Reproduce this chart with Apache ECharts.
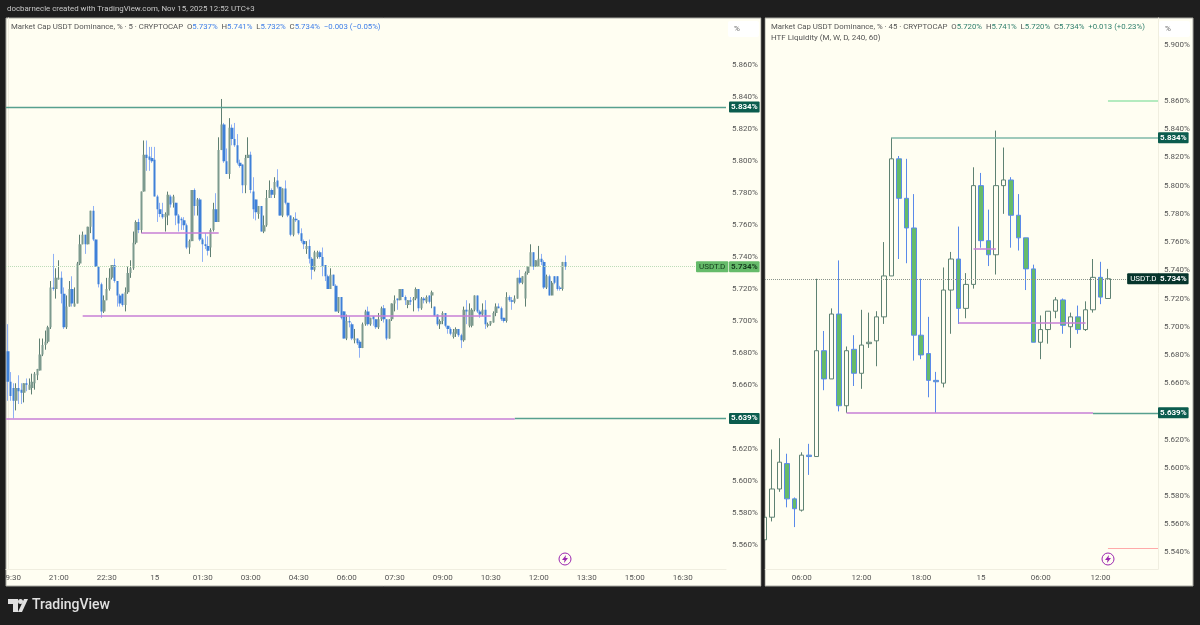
<!DOCTYPE html>
<html>
<head>
<meta charset="utf-8">
<title>USDT.D</title>
<script src="https://cdn.jsdelivr.net/npm/echarts@6/dist/echarts.min.js"></script>
<style>
    html, body { margin: 0; padding: 0; background: #1e1e1e; }
    #chart { width: 1200px; height: 625px; }
</style>
</head>
<body>
<div id="chart"></div>
<script>
// [open, close, low, high]
var candles5m = [
    [5.681,5.662,5.650,5.698],[5.662,5.653,5.650,5.668],[5.658,5.650,5.639,5.661],[5.650,5.658,5.644,5.661],
    [5.658,5.656,5.648,5.666],[5.657,5.655,5.648,5.661],[5.655,5.661,5.649,5.661],[5.661,5.660,5.656,5.664],
    [5.657,5.660,5.657,5.664],[5.658,5.662,5.654,5.667],[5.661,5.667,5.657,5.668],[5.666,5.670,5.663,5.670],
    [5.669,5.679,5.669,5.689],[5.679,5.685,5.678,5.689],[5.685,5.687,5.682,5.694],[5.687,5.696,5.686,5.697],
    [5.696,5.721,5.695,5.725],[5.721,5.720,5.719,5.742],[5.720,5.727,5.714,5.733],[5.726,5.727,5.726,5.738],
    [5.727,5.717,5.711,5.731],[5.717,5.696,5.695,5.721],[5.696,5.709,5.695,5.716],[5.709,5.720,5.709,5.725],
    [5.720,5.711,5.709,5.728],[5.709,5.711,5.709,5.721],[5.711,5.736,5.711,5.737],[5.736,5.748,5.735,5.754],
    [5.748,5.754,5.748,5.756],[5.754,5.748,5.742,5.754],[5.748,5.759,5.748,5.759],[5.759,5.769,5.755,5.769],
    [5.769,5.751,5.750,5.772],[5.751,5.734,5.734,5.751],[5.734,5.723,5.721,5.734],[5.723,5.706,5.702,5.724],
    [5.706,5.713,5.705,5.716],[5.713,5.720,5.713,5.727],[5.720,5.727,5.719,5.733],[5.727,5.735,5.726,5.735],
    [5.735,5.725,5.724,5.739],[5.725,5.716,5.709,5.725],[5.716,5.711,5.709,5.717],[5.717,5.710,5.709,5.717],
    [5.710,5.718,5.706,5.721],[5.718,5.730,5.717,5.734],[5.730,5.733,5.727,5.738],[5.733,5.749,5.732,5.756],
    [5.749,5.762,5.748,5.763],[5.762,5.757,5.755,5.764],[5.757,5.781,5.755,5.781],[5.781,5.804,5.781,5.813],
    [5.804,5.802,5.794,5.813],[5.803,5.801,5.794,5.809],[5.802,5.800,5.799,5.809],[5.801,5.778,5.778,5.809],
    [5.778,5.770,5.762,5.779],[5.770,5.767,5.765,5.774],[5.767,5.765,5.764,5.774],[5.765,5.767,5.756,5.768],
    [5.766,5.779,5.760,5.781],[5.778,5.773,5.771,5.779],[5.774,5.778,5.771,5.779],[5.774,5.766,5.760,5.774],
    [5.766,5.761,5.756,5.767],[5.764,5.763,5.757,5.765],[5.763,5.760,5.757,5.765],[5.760,5.746,5.745,5.761],
    [5.746,5.750,5.742,5.751],[5.750,5.782,5.750,5.782],[5.782,5.772,5.766,5.783],[5.772,5.776,5.766,5.777],
    [5.776,5.751,5.750,5.777],[5.751,5.748,5.737,5.752],[5.748,5.747,5.745,5.755],[5.747,5.744,5.741,5.753],
    [5.746,5.757,5.740,5.758],[5.757,5.770,5.756,5.774],[5.770,5.762,5.762,5.780],[5.762,5.807,5.762,5.815],
    [5.807,5.823,5.807,5.839],[5.823,5.800,5.799,5.824],[5.800,5.792,5.792,5.808],[5.792,5.821,5.789,5.827],
    [5.821,5.814,5.810,5.823],[5.814,5.810,5.809,5.824],[5.810,5.799,5.798,5.817],[5.799,5.797,5.796,5.801],
    [5.798,5.785,5.780,5.798],[5.785,5.802,5.780,5.804],[5.802,5.804,5.802,5.815],[5.804,5.782,5.780,5.806],
    [5.781,5.770,5.764,5.790],[5.776,5.768,5.763,5.776],[5.767,5.772,5.764,5.772],[5.772,5.756,5.756,5.772],
    [5.756,5.760,5.755,5.766],[5.760,5.777,5.759,5.782],[5.777,5.782,5.777,5.788],[5.782,5.779,5.777,5.783],
    [5.779,5.787,5.777,5.790],[5.788,5.784,5.783,5.795],[5.784,5.766,5.766,5.784],[5.766,5.783,5.765,5.783],
    [5.783,5.774,5.773,5.788],[5.774,5.766,5.765,5.774],[5.766,5.754,5.753,5.766],[5.754,5.764,5.753,5.765],
    [5.764,5.763,5.762,5.768],[5.763,5.755,5.754,5.763],[5.755,5.750,5.749,5.758],[5.750,5.748,5.745,5.751],
    [5.745,5.747,5.742,5.750],[5.747,5.739,5.736,5.751],[5.739,5.732,5.726,5.740],[5.732,5.743,5.731,5.744],
    [5.740,5.743,5.739,5.744],[5.743,5.740,5.739,5.744],[5.740,5.734,5.728,5.746],[5.735,5.728,5.725,5.735],
    [5.728,5.720,5.720,5.729],[5.720,5.729,5.720,5.733],[5.729,5.722,5.722,5.729],[5.722,5.706,5.706,5.723],
    [5.706,5.715,5.705,5.715],[5.715,5.702,5.701,5.715],[5.706,5.689,5.689,5.706],[5.689,5.700,5.688,5.704],
    [5.700,5.699,5.696,5.703],[5.698,5.689,5.688,5.699],[5.688,5.689,5.686,5.695],[5.689,5.686,5.685,5.689],
    [5.687,5.683,5.677,5.688],[5.683,5.698,5.683,5.699],[5.698,5.706,5.697,5.707],[5.706,5.698,5.697,5.709],
    [5.698,5.702,5.697,5.702],[5.703,5.701,5.697,5.703],[5.701,5.696,5.695,5.701],[5.696,5.701,5.695,5.705],
    [5.701,5.708,5.700,5.709],[5.708,5.701,5.699,5.710],[5.701,5.689,5.688,5.701],[5.689,5.701,5.689,5.701],
    [5.701,5.711,5.700,5.711],[5.711,5.713,5.706,5.716],[5.714,5.713,5.707,5.714],[5.713,5.720,5.713,5.720],
    [5.720,5.715,5.715,5.720],[5.715,5.713,5.710,5.716],[5.710,5.713,5.708,5.713],[5.713,5.712,5.710,5.715],
    [5.713,5.714,5.706,5.715],[5.714,5.720,5.713,5.721],[5.720,5.708,5.706,5.720],[5.708,5.714,5.707,5.715],
    [5.714,5.713,5.711,5.715],[5.712,5.715,5.711,5.716],[5.716,5.712,5.711,5.716],[5.716,5.718,5.708,5.719],
    [5.709,5.703,5.703,5.709],[5.704,5.698,5.697,5.704],[5.698,5.700,5.695,5.701],[5.700,5.705,5.698,5.706],
    [5.705,5.697,5.696,5.705],[5.697,5.695,5.692,5.697],[5.695,5.692,5.691,5.696],[5.690,5.693,5.689,5.695],
    [5.692,5.695,5.690,5.696],[5.695,5.691,5.690,5.695],[5.691,5.688,5.683,5.692],[5.688,5.707,5.687,5.709],
    [5.707,5.706,5.698,5.713],[5.697,5.707,5.696,5.711],[5.697,5.707,5.696,5.708],[5.707,5.716,5.706,5.716],
    [5.716,5.706,5.705,5.716],[5.706,5.704,5.702,5.707],[5.704,5.707,5.703,5.711],[5.707,5.698,5.695,5.713],
    [5.697,5.698,5.696,5.699],[5.698,5.700,5.697,5.700],[5.699,5.705,5.699,5.706],[5.705,5.709,5.703,5.711],
    [5.709,5.708,5.708,5.711],[5.708,5.701,5.700,5.709],[5.702,5.700,5.699,5.702],[5.700,5.715,5.699,5.718],
    [5.715,5.713,5.712,5.716],[5.713,5.712,5.707,5.715],[5.712,5.714,5.711,5.716],[5.714,5.727,5.714,5.727],
    [5.727,5.724,5.723,5.732],[5.724,5.728,5.723,5.728],[5.714,5.730,5.709,5.731],[5.730,5.734,5.729,5.734],
    [5.734,5.743,5.734,5.748],[5.743,5.734,5.732,5.743],[5.734,5.738,5.734,5.738],[5.734,5.739,5.734,5.747],
    [5.739,5.737,5.735,5.742],[5.737,5.721,5.720,5.738],[5.721,5.728,5.720,5.729],[5.728,5.716,5.716,5.729],
    [5.716,5.724,5.716,5.725],[5.728,5.724,5.723,5.728],[5.728,5.720,5.719,5.728],[5.721,5.720,5.719,5.722],
    [5.720,5.737,5.719,5.737],[5.737,5.734,5.732,5.741]
];

// [open, close, low, high]
var candles45m = [
    [5.549,5.565,5.549,5.566],[5.565,5.585,5.562,5.613],[5.585,5.604,5.583,5.621],[5.603,5.578,5.572,5.610],
    [5.578,5.571,5.558,5.579],[5.570,5.609,5.569,5.611],[5.609,5.608,5.595,5.617],[5.608,5.683,5.608,5.734],
    [5.683,5.663,5.655,5.697],[5.663,5.709,5.663,5.713],[5.709,5.644,5.640,5.747],[5.644,5.683,5.639,5.686],
    [5.684,5.667,5.658,5.694],[5.667,5.687,5.656,5.712],[5.688,5.689,5.685,5.710],[5.690,5.707,5.672,5.711],
    [5.707,5.736,5.702,5.760],[5.736,5.819,5.736,5.834],[5.819,5.791,5.748,5.821],[5.791,5.770,5.745,5.819],
    [5.770,5.694,5.676,5.794],[5.694,5.680,5.677,5.734],[5.681,5.662,5.650,5.707],[5.662,5.661,5.639,5.668],
    [5.660,5.726,5.657,5.742],[5.726,5.748,5.695,5.753],[5.748,5.713,5.702,5.771],[5.713,5.730,5.706,5.738],
    [5.730,5.800,5.727,5.813],[5.800,5.761,5.756,5.809],[5.761,5.751,5.743,5.783],[5.751,5.800,5.737,5.839],
    [5.800,5.804,5.780,5.827],[5.804,5.779,5.756,5.806],[5.779,5.763,5.754,5.794],[5.763,5.741,5.726,5.763],
    [5.741,5.689,5.689,5.744],[5.689,5.698,5.677,5.708],[5.698,5.711,5.688,5.711],[5.711,5.719,5.706,5.721],
    [5.719,5.701,5.695,5.720],[5.700,5.707,5.685,5.710],[5.707,5.698,5.695,5.715],[5.698,5.712,5.697,5.718],
    [5.712,5.735,5.710,5.748],[5.735,5.721,5.716,5.746],[5.720,5.734,5.720,5.741]
];

var priceTicks5m = [5.56, 5.58, 5.60, 5.62, 5.66, 5.68, 5.70, 5.72, 5.74, 5.76, 5.78, 5.80, 5.82, 5.84, 5.86];
var priceTicks45m = [5.54, 5.56, 5.58, 5.60, 5.62, 5.66, 5.68, 5.70, 5.72, 5.74, 5.76, 5.78, 5.80, 5.82, 5.84, 5.86, 5.90];

var timeTicks5m = [2, 19, 37, 55, 73, 91, 109, 127, 145, 163, 181, 199, 217, 235, 253];
var timeLabels5m = ['9:30', '21:00', '22:30', '15', '01:30', '03:00', '04:30', '06:00', '07:30', '09:00', '10:30', '12:00', '13:30', '15:00', '16:30'];
var timeTicks45m = [5, 13, 21, 29, 37, 45];
var timeLabels45m = ['06:00', '12:00', '18:00', '15', '06:00', '12:00'];

// visible bar range of each panel, half a bar off on the left like the original
var barRange5m = [-0.75, 269.2];
var barRange45m = [0.08, 52.7];

// liquidity levels: [from bar, to bar, price, kind]
var levels5m = [
    [-0.75, 269.2, 5.834, 'teal'],
    [190, 269.2, 5.639, 'teal'],
    [-0.75, 190, 5.639, 'purple'],
    [28, 181, 5.703, 'purple'],
    [50, 79, 5.755, 'purple']
];
var levels45m = [
    [17, 52.7, 5.834, 'tealSoft'],
    [44, 52.7, 5.639, 'teal'],
    [11, 44, 5.639, 'purple'],
    [26, 43, 5.703, 'purple'],
    [28, 31, 5.755, 'purple'],
    [46, 52.7, 5.860, 'greenSoft'],
    [46, 52.7, 5.543, 'redSoft']
];

var lastPrice = 5.734;
var swingHigh = 5.834;
var swingLow = 5.639;

var FONT = 'Roboto';
var levelStyles = {
    teal: { color: '#57a08f', width: 1.4 },
    tealSoft: { color: '#7fb8a8', width: 1.6 },
    purple: { color: '#c77fd6', width: 1.5 },
    greenSoft: { color: '#9be4ae', width: 1.5 },
    redSoft: { color: '#ffaaaa', width: 1 }
};

function levelLines(levels) {
    return levels.map(function (l) {
        return [
            { coord: [l[0], l[2]], lineStyle: { color: levelStyles[l[3]].color, width: levelStyles[l[3]].width, type: 'solid' } },
            { coord: [l[1], l[2]] }
        ];
    });
}

// tags sit on a short see-through segment, opacity 0 would hide the label too
function priceTag(x, price, bg, fg, gap) {
    return [
        {
            coord: [x - 1, price],
            lineStyle: { color: 'rgba(0,0,0,0)' },
            label: {
                show: true, position: 'end', distance: gap,
                formatter: price.toFixed(3) + '%',
                backgroundColor: bg, color: fg,
                fontFamily: FONT, fontSize: 8, fontWeight: 'bold',
                padding: [2, 2, 1, 2], borderRadius: 1
            }
        },
        { coord: [x, price] }
    ];
}

function nameTag(x, bg, fg) {
    return [
        {
            coord: [x - 1, lastPrice],
            lineStyle: { color: 'rgba(0,0,0,0)' },
            label: {
                show: true, position: 'end', distance: 2,
                formatter: 'USDT.D',
                backgroundColor: bg, color: fg,
                fontFamily: FONT, fontSize: 8,
                padding: [2, 3, 1, 3], borderRadius: 1
            }
        },
        { coord: [x, lastPrice] }
    ];
}

function xAxisFor(gridIndex, range, ticks, labels) {
    return {
        type: 'value', gridIndex: gridIndex, min: range[0], max: range[1],
        splitLine: { show: false },
        axisTick: { show: false },
        axisLine: { show: true, onZero: false, lineStyle: { color: '#f0eee0', width: 1 } },
        axisLabel: {
            customValues: ticks,
            color: '#555', fontFamily: FONT, fontSize: 8, margin: 5, hideOverlap: false,
            formatter: function (v) { return labels[ticks.indexOf(v)]; }
        }
    };
}

function yAxisFor(gridIndex, min, max, ticks) {
    return {
        type: 'value', gridIndex: gridIndex, min: min, max: max, position: 'right',
        splitLine: { show: false },
        axisTick: { show: false },
        axisLine: { show: true, lineStyle: { color: '#f0eee0', width: 1 } },
        axisLabel: {
            customValues: ticks,
            color: '#555', fontFamily: FONT, fontSize: 8, margin: 6,
            formatter: function (v) { return v.toFixed(3) + '%'; }
        }
    };
}

function legendTitle(left, top, head, values, colour) {
    return {
        left: left, top: top, padding: 0,
        text: '{h|' + head + '}' + values.map(function (v) {
            return v[0] ? '{h|  ' + v[0] + '}{v|' + v[1] + '}' : '{v|  ' + v[1] + '}';
        }).join(''),
        textStyle: {
            fontFamily: FONT, fontSize: 7.8, fontWeight: 'normal',
            rich: {
                h: { fontFamily: FONT, fontSize: 7.8, fontWeight: 'normal', color: '#555' },
                v: { fontFamily: FONT, fontSize: 7.8, fontWeight: 'normal', color: colour }
            }
        }
    };
}

function boltIcon(cx, cy) {
    return [
        { type: 'circle', shape: { cx: cx, cy: cy, r: 6 }, style: { fill: 'none', stroke: '#9c27b0', lineWidth: 1 }, z: 5 },
        { type: 'polygon', shape: { points: [[cx + 1, cy - 4], [cx - 3, cy + 1], [cx - 0.5, cy + 1], [cx - 1, cy + 4], [cx + 3, cy - 1], [cx + 0.5, cy - 1]] }, style: { fill: '#9c27b0' }, z: 5 }
    ];
}

function percentBox(x) {
    return [
        { type: 'rect', shape: { x: x, y: 21, width: 31, height: 16, r: 2 }, style: { fill: '#ffffff' }, z: 5 },
        { type: 'text', style: { x: x + 6, y: 29, text: '%', fill: '#666', font: '8px ' + FONT, verticalAlign: 'middle' }, z: 6 }
    ];
}

function panel(x, width) {
    return { type: 'rect', shape: { x: x, y: 18, width: width, height: 568 }, style: { fill: '#fffef2', stroke: '#a9a9a2', lineWidth: 1 }, z: -10 };
}

function withBarIndex(candles) {
    return candles.map(function (c, i) { return [i, c[0], c[1], c[2], c[3]]; });
}

var chart = echarts.init(document.getElementById('chart'), null, { renderer: 'canvas' });

chart.setOption({
    animation: false,
    backgroundColor: '#1e1e1e',
    title: [
        {
            left: 7, top: 5, padding: 0,
            text: 'docbarnecle created with TradingView.com, Nov 15, 2025 12:52 UTC+3',
            textStyle: { color: '#c8c8c8', fontFamily: FONT, fontSize: 7.9, fontWeight: 'normal' }
        },
        legendTitle(11, 23, 'Market Cap USDT Dominance, % · 5 · CRYPTOCAP',
            [['O', '5.737%'], ['H', '5.741%'], ['L', '5.732%'], ['C', '5.734%'], ['', '\u22120.003 (\u22120.05%)']], '#3f7fe8'),
        legendTitle(771, 23, 'Market Cap USDT Dominance, % · 45 · CRYPTOCAP',
            [['O', '5.720%'], ['H', '5.741%'], ['L', '5.720%'], ['C', '5.734%'], ['', '+0.013 (+0.23%)']], '#2f7f6c'),
        {
            left: 771, top: 34, padding: 0,
            text: 'HTF Liquidity (M, W, D, 240, 60)',
            textStyle: { color: '#555', fontFamily: FONT, fontSize: 8, fontWeight: 'normal' }
        }
    ],
    grid: [
        { left: 6, top: 18, width: 720, height: 551 },
        { left: 765, top: 18, width: 393, height: 551 }
    ],
    xAxis: [
        xAxisFor(0, barRange5m, timeTicks5m, timeLabels5m),
        xAxisFor(1, barRange45m, timeTicks45m, timeLabels45m)
    ],
    yAxis: [
        yAxisFor(0, 5.5447, 5.8897, priceTicks5m),
        yAxisFor(1, 5.5283, 5.9188, priceTicks45m)
    ],
    graphic: { elements: [
        panel(6, 755),
        panel(765, 428),
        // the cut off first candle must not run into the gap between the panels
        { type: 'rect', shape: { x: 761.5, y: 18, width: 3, height: 568 }, style: { fill: '#1e1e1e' }, z: 5 }
    ].concat(
        percentBox(728), percentBox(1159),
        boltIcon(565, 559), boltIcon(1108, 559),
        [
            { type: 'text', style: { x: 32, y: 605, text: 'TradingView', fill: '#e0e0e0', font: '500 14px ' + FONT, verticalAlign: 'middle' }, z: 5 },
            { type: 'polygon', shape: { points: [[8, 599], [18, 599], [18, 612], [13, 612], [13, 604], [8, 604]] }, style: { fill: '#e0e0e0' }, z: 5 },
            { type: 'circle', shape: { cx: 20.5, cy: 601.5, r: 2.5 }, style: { fill: '#e0e0e0' }, z: 5 },
            { type: 'polygon', shape: { points: [[24, 599], [28, 599], [22, 612], [18, 612]] }, style: { fill: '#e0e0e0' }, z: 5 }
        ]
    ) },
    series: [
        // wicks of the 5 minute candles, bodies come from the next series
        {
            type: 'candlestick', xAxisIndex: 0, yAxisIndex: 0,
            encode: { x: 0, y: [1, 2, 3, 4] },
            barWidth: 1,
            itemStyle: { color: '#5f7f72', color0: '#8fb0f5', borderColor: '#5f7f72', borderColor0: '#8fb0f5', borderWidth: 1 },
            data: withBarIndex(candles5m),
            markLine: {
                silent: true, symbol: 'none', animation: false, label: { show: false },
                data: levelLines(levels5m).concat([
                    [
                        { coord: [barRange5m[0], lastPrice], lineStyle: { color: '#bcdcb8', width: 1, type: 'dotted' } },
                        { coord: [barRange5m[1], lastPrice] }
                    ],
                    nameTag(257.2, '#66bb6a', '#143a1c'),
                    priceTag(barRange5m[1], swingHigh, '#0b5c4e', '#ffffff', 3),
                    priceTag(barRange5m[1], lastPrice, '#66bb6a', '#143a1c', 3),
                    priceTag(barRange5m[1], swingLow, '#0b5c4e', '#ffffff', 3)
                ])
            }
        },
        {
            type: 'candlestick', xAxisIndex: 0, yAxisIndex: 0,
            encode: { x: 0, y: [1, 2, 3, 4] },
            barWidth: 2.7,
            itemStyle: { color: '#7d9a8e', color0: '#3f80d8', borderWidth: 0 },
            data: withBarIndex(candles5m)
        },
        {
            type: 'candlestick', xAxisIndex: 1, yAxisIndex: 1,
            encode: { x: 0, y: [1, 2, 3, 4] },
            barWidth: 5,
            itemStyle: { color: '#fffef2', color0: '#66bb6a', borderColor: '#5f8273', borderColor0: '#5a8aea', borderWidth: 1 },
            data: withBarIndex(candles45m),
            markLine: {
                silent: true, symbol: 'none', animation: false, label: { show: false },
                data: levelLines(levels45m).concat([
                    [
                        { coord: [barRange45m[0], lastPrice], lineStyle: { color: '#8a948c', width: 1, type: 'dotted' } },
                        { coord: [barRange45m[1], lastPrice] }
                    ],
                    nameTag(48.3, '#06352c', '#ffffff'),
                    priceTag(barRange45m[1], swingHigh, '#0b5c4e', '#ffffff', 0),
                    priceTag(barRange45m[1], lastPrice, '#06352c', '#ffffff', 0),
                    priceTag(barRange45m[1], swingLow, '#0b5c4e', '#ffffff', 0)
                ])
            }
        }
    ]
});
</script>
</body>
</html>
